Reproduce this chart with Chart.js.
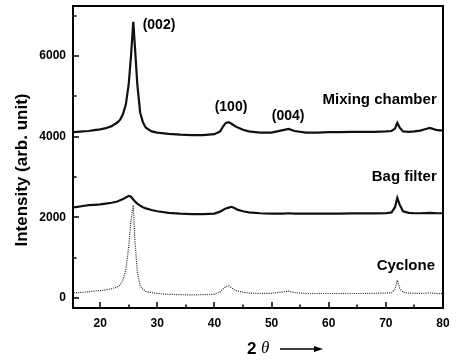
<!DOCTYPE html>
<html>
<head>
<meta charset="utf-8">
<script src="https://cdn.jsdelivr.net/npm/chart.js@4"></script>
<style>
html,body{margin:0;padding:0;background:#fff;}
canvas{display:block;}
</style>
</head>
<body>
<canvas id="c" width="457" height="360"></canvas>
<script>
// 2-theta positions (degrees)
const twoTheta = [15,16,17,18,19,20,21,22,23,23.5,24,24.5,25,25.4,25.8,26.1,26.5,27,27.5,28,29,30,32,34,36,38,40,41,41.5,42,42.5,43,43.5,44,45,46,48,50,52,53,54,56,58,60,62,64,66,68,70,71,71.6,72,72.4,73,74,75,76,77,77.7,78.5,79,80];
// Intensity series (arb. unit)
const mixingChamber = [4110,4120,4130,4140,4160,4180,4210,4260,4350,4420,4560,4800,5300,6000,6850,6200,5300,4600,4350,4220,4130,4100,4070,4050,4040,4040,4060,4130,4250,4340,4360,4320,4270,4230,4170,4130,4100,4100,4160,4190,4140,4100,4100,4110,4110,4120,4120,4120,4130,4140,4200,4340,4230,4130,4120,4130,4150,4190,4215,4180,4160,4150];
const bagFilter = [2240,2260,2280,2300,2310,2320,2340,2360,2390,2420,2450,2490,2530,2510,2440,2390,2340,2290,2250,2220,2180,2150,2110,2090,2080,2080,2090,2140,2180,2220,2240,2260,2230,2190,2150,2120,2100,2090,2090,2100,2090,2090,2090,2090,2090,2095,2095,2095,2100,2120,2250,2480,2320,2150,2110,2100,2100,2105,2110,2105,2100,2100];
const cyclone = [120,130,140,150,170,180,200,230,270,320,450,700,1270,1930,2300,1400,650,300,210,160,130,110,90,80,75,80,90,150,220,280,300,250,200,170,140,120,110,115,150,170,130,110,110,110,110,110,110,115,120,130,220,440,250,140,120,115,110,120,125,115,110,105];
// Axis tick labels
const xTickValues = [20,30,40,50,60,70,80];
const xMinorValues = [25,35,45,55,65,75];
const yTickValues = [0,2000,4000,6000];
const yMinorValues = [1000,3000,5000,7000];
// Text labels
const peakLabels = [
  {text:'(002)', x:30.3, y:6770},
  {text:'(100)', x:42.9, y:4740},
  {text:'(004)', x:52.9, y:4510}
];
const seriesLabels = [
  {text:'Mixing chamber', x:78.9, y:4910},
  {text:'Bag filter', x:78.9, y:3000},
  {text:'Cyclone', x:78.6, y:790}
];

const FONT = '"Liberation Sans", Arial, Helvetica, sans-serif';
const pts = arr => twoTheta.map((x,i)=>({x:x, y:arr[i]}));

const decor = {
  id:'decor',
  afterDraw(chart){
    const ctx = chart.ctx, a = chart.chartArea;
    const xs = chart.scales.x, ys = chart.scales.y;
    ctx.save();
    ctx.strokeStyle = '#000';
    ctx.lineWidth = 2;
    ctx.strokeRect(a.left, a.top, a.right - a.left, a.bottom - a.top);
    ctx.lineWidth = 1.5;
    ctx.beginPath();
    xTickValues.forEach(v=>{const p=Math.round(xs.getPixelForValue(v)); ctx.moveTo(p,a.bottom); ctx.lineTo(p,a.bottom-6);});
    xMinorValues.forEach(v=>{const p=Math.round(xs.getPixelForValue(v)); ctx.moveTo(p,a.bottom); ctx.lineTo(p,a.bottom-3.5);});
    yTickValues.forEach(v=>{const p=Math.round(ys.getPixelForValue(v)); ctx.moveTo(a.left,p); ctx.lineTo(a.left+6,p);});
    yMinorValues.forEach(v=>{const p=Math.round(ys.getPixelForValue(v)); ctx.moveTo(a.left,p); ctx.lineTo(a.left+3.5,p);});
    ctx.stroke();

    ctx.fillStyle = '#000';
    ctx.textBaseline = 'middle';
    ctx.font = 'bold 14px ' + FONT;
    ctx.textAlign = 'center';
    peakLabels.forEach(l=>ctx.fillText(l.text, xs.getPixelForValue(l.x), ys.getPixelForValue(l.y)));
    ctx.font = 'bold 15px ' + FONT;
    ctx.textAlign = 'right';
    seriesLabels.forEach(l=>ctx.fillText(l.text, xs.getPixelForValue(l.x), ys.getPixelForValue(l.y)));

    // y axis title
    ctx.save();
    ctx.translate(22, 170);
    ctx.rotate(-Math.PI/2);
    ctx.textAlign = 'center';
    ctx.font = 'bold 17px ' + FONT;
    ctx.fillText('Intensity (arb. unit)', 0, 0);
    ctx.restore();

    // x axis title: 2θ with arrow
    const cy = 349;
    ctx.textAlign = 'left';
    ctx.font = 'bold 17px ' + FONT;
    ctx.fillText('2', 247, cy);
    ctx.font = 'italic 17px "Liberation Serif", "DejaVu Serif", serif';
    ctx.fillText('\u03B8', 261, cy);
    ctx.lineWidth = 1.5;
    ctx.beginPath();
    ctx.moveTo(280, cy); ctx.lineTo(318, cy);
    ctx.stroke();
    ctx.beginPath();
    ctx.moveTo(323, cy); ctx.lineTo(314, cy-3); ctx.lineTo(314, cy+3); ctx.closePath();
    ctx.fill();
    ctx.restore();
  }
};

new Chart(document.getElementById('c'), {
  type:'line',
  data:{
    datasets:[
      {label:'Mixing chamber', data:pts(mixingChamber), borderColor:'#111', borderWidth:2.2, pointRadius:0, tension:0},
      {label:'Bag filter', data:pts(bagFilter), borderColor:'#111', borderWidth:2.2, pointRadius:0, tension:0},
      {label:'Cyclone', data:pts(cyclone), borderColor:'#222', borderWidth:1.2, borderDash:[1,1.2], pointRadius:0, tension:0}
    ]
  },
  options:{
    responsive:false,
    animation:false,
    layout:{padding:{left:0, right:14, top:6, bottom:0}},
    plugins:{legend:{display:false}, tooltip:{enabled:false}},
    scales:{
      x:{
        type:'linear', min:15.25, max:80,
        afterBuildTicks:s=>{s.ticks = xTickValues.map(v=>({value:v}));},
        afterFit:s=>{s.height = 52; s.paddingLeft = 0; s.paddingRight = 0;},
        grid:{display:false, drawTicks:false},
        border:{display:false},
        ticks:{color:'#000', padding:8, maxRotation:0, autoSkip:false, callback:v=>String(v), font:{family:FONT, size:12, weight:'bold'}}
      },
      y:{
        type:'linear', min:-250, max:7240,
        afterBuildTicks:s=>{s.ticks = yTickValues.map(v=>({value:v}));},
        afterFit:s=>{s.width = 73; s.paddingTop = 0; s.paddingBottom = 0;},
        grid:{display:false, drawTicks:false},
        border:{display:false},
        ticks:{color:'#000', padding:7, callback:v=>String(v), font:{family:FONT, size:12, weight:'bold'}}
      }
    }
  },
  plugins:[decor]
});
</script>
</body>
</html>
